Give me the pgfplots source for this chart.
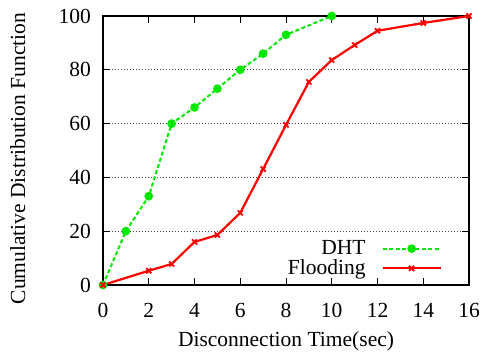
\documentclass[border=0pt]{standalone}
\usepackage{fontspec}
\setmainfont{Liberation Serif}
\usepackage{pgfplots}
\pgfplotsset{compat=1.18}
\definecolor{gpgreen}{RGB}{0,232,0}
\definecolor{gpred}{RGB}{255,0,0}
\begin{document}
\fontsize{21.5}{25}\selectfont
\begin{tikzpicture}
\begin{axis}[
  at={(0,0)}, anchor=south west,
  scale only axis, width=366pt, height=269pt,
  xmin=0, xmax=16, ymin=0, ymax=100,
  xtick={0,2,...,16}, ytick={0,20,...,100},
  tick align=inside, major tick length=7pt,
  xtick pos=both, ytick pos=both,
  axis line style={line width=1.3pt},
  tick style={line width=0.8pt, black},
  ymajorgrids,
  major grid style={dash pattern=on 1pt off 2pt, line width=0.8pt, black!75},
  /pgf/number format/assume math mode=true,
  xticklabel style={anchor=north, inner sep=0pt},
  xticklabel shift=18pt,
  yticklabel style={anchor=east, inner sep=0pt},
  yticklabel shift=12pt,
  xlabel={Disconnection Time(sec)},
  ylabel={Cumulative Distribution Function},
  xlabel style={at={(axis description cs:0.5,-0.23)}, anchor=base},
  ylabel style={at={(axis description cs:-0.213,0.47)}, anchor=base, rotate=0},
  legend plot pos=right,
  legend cell align=right,
  legend style={draw=none, fill=none, at={(axis description cs:0.926,0.02)}, anchor=south east,
    row sep=-2pt, column sep=14pt, inner sep=0pt},
  legend image code/.code={\draw[mark repeat=2,mark phase=2,#1] plot coordinates {(0pt,0pt) (29pt,0pt) (58pt,0pt)};},
]
\addplot[gpgreen, line width=2pt, dash pattern=on 4pt off 2.5pt, mark=*, mark size=3.3pt, mark options={solid}]
  coordinates {(0,0)(1,20)(2,33)(3,60)(4,66)(5,73)(6,80)(7,86)(8,93)(10,100)};
\addlegendentry{DHT}
\addplot[gpred, line width=2.2pt, mark=x, mark size=3.6pt, mark options={solid, line width=1.8pt}]
  coordinates {(0,0)(2,5.3)(3,7.8)(4,16)(5,18.6)(6,26.8)(7,43.1)(8,59.5)(9,75.5)(10,83.6)(11,89.2)(12,94.5)(14,97.4)(16,100)};
\addlegendentry{Flooding}
\end{axis}
\pgfresetboundingbox
\path[use as bounding box] (-103pt,-67pt) rectangle (379pt,285pt);
\end{tikzpicture}
\end{document}
